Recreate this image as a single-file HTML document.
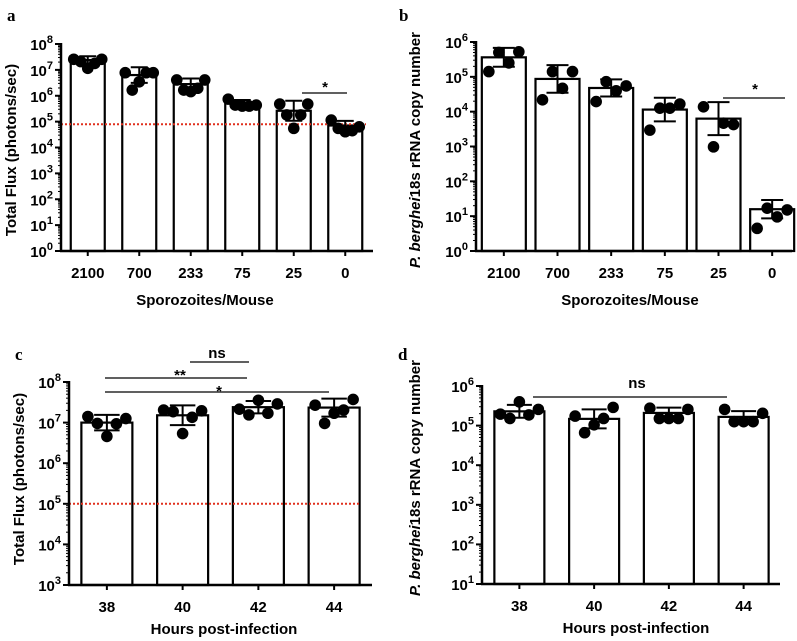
<!DOCTYPE html>
<html><head><meta charset="utf-8"><style>
body{margin:0;background:#fff;}
svg{display:block;font-family:"Liberation Sans",Arial,sans-serif;}
.t{font-weight:bold;font-size:15px;}
.pl{font-family:"Liberation Serif",serif;font-weight:bold;font-size:17px;}
</style></head><body>
<svg id="fig" width="797" height="641" viewBox="0 0 797 641" xmlns="http://www.w3.org/2000/svg"></svg>
<script>
// Panel a data (log10 values)
const catsA = ["2100","700","233","75","25","0"];
const barsA = [7.38, 6.80, 6.45, 5.72, 5.42, 4.85];
const ptsA = [[7.41,7.32,7.06,7.25,7.41],[6.89,6.22,6.54,6.89,6.89],[6.61,6.22,6.16,6.29,6.61],[5.87,5.64,5.6,5.6,5.64],[5.68,5.26,4.74,5.26,5.68],[5.06,4.74,4.61,4.65,4.8]];
// Panel b
const catsB = ["2100","700","233","75","25","0"];
const barsB = [5.56, 4.94, 4.68, 4.06, 3.80, 1.2];
const ptsB = [[5.15,5.7,5.4,5.72],[4.34,5.15,4.67,5.15],[4.29,4.86,4.6,4.74],[3.47,4.1,4.1,4.22],[4.14,2.99,3.67,3.63],[0.65,1.23,0.98,1.18]];
// Panel c
const catsC = ["38","40","42","44"];
const barsC = [7.0, 7.18, 7.38, 7.37];
const ptsC = [[7.15,6.98,6.66,6.97,7.1],[7.31,7.27,6.73,7.13,7.29],[7.33,7.19,7.55,7.23,7.46],[7.43,6.98,7.23,7.31,7.57]];
// Panel d
const catsD = ["38","40","42","44"];
const barsD = [5.36, 5.17, 5.32, 5.22];
const ptsD = [[5.29,5.18,5.6,5.27,5.41],[5.24,4.82,5.02,5.18,5.46],[5.44,5.18,5.18,5.18,5.41],[5.41,5.1,5.1,5.1,5.31]];
const ticksA=[0,1,2,3,4,5,6,7,8], ticksB=[0,1,2,3,4,5,6], ticksC=[3,4,5,6,7,8], ticksD=[1,2,3,4,5,6];
const thrA=4.9, thrC=5.0;

const NS="http://www.w3.org/2000/svg";
const svg=document.getElementById('fig');
function mk(tag,attrs,parent,txt){const e=document.createElementNS(NS,tag);for(const k in attrs)e.setAttribute(k,attrs[k]);if(txt!==undefined)e.textContent=txt;(parent||svg).appendChild(e);return e;}

function panel(o){
  const g=mk('g',{},svg);
  
  
  const y=v=>o.y0-(v-o.lmin)*(o.y0-o.y1)/(o.lmax-o.lmin);
  const n=o.cats.length, step=(o.xr-o.xl)/n;
  const x=i=>o.xl+step*(i+0.5);
  o.cats.forEach((c,i)=>{
    const r=mk('rect',{x:x(i)-o.bw/2,y:y(o.bars[i]),width:o.bw,height:o.y0-y(o.bars[i]),fill:'#fff',stroke:'#000','stroke-width':2.2},g);
    
    
  });
  if(o.thr!==undefined){
    const l=mk('line',{x1:o.ax,x2:o.thrEnd,y1:y(o.thr),y2:y(o.thr),stroke:'#e0301e','stroke-width':2,'stroke-dasharray':'2,2'},g);
    
    
  }
  o.cats.forEach((c,i)=>{
    const p=o.pts[i], m=o.bars[i];
    const mean=p.reduce((a,b)=>a+b,0)/p.length;
    const sd=Math.sqrt(p.reduce((a,b)=>a+(b-mean)*(b-mean),0)/(p.length-1));
    const cw=o.bw*0.5;
    mk('line',{x1:x(i),x2:x(i),y1:y(m+sd),y2:y(m-sd),stroke:'#000','stroke-width':2},g);
    mk('line',{x1:x(i)-cw/2,x2:x(i)+cw/2,y1:y(m+sd),y2:y(m+sd),stroke:'#000','stroke-width':2},g);
    mk('line',{x1:x(i)-cw/2,x2:x(i)+cw/2,y1:y(m-sd),y2:y(m-sd),stroke:'#000','stroke-width':2},g);
    p.forEach((v,j)=>{
      const off=(j-(p.length-1)/2)*(o.spread/(p.length-1));
      const d=mk('circle',{cx:x(i)+off,cy:y(v),r:5.8,fill:'#000'},g);
      
      
    });
    const t=mk('text',{x:x(i),y:o.y0+27,'text-anchor':'middle',class:'t'},g,c);
    
    
  });
  mk('line',{x1:o.ax,x2:o.ax,y1:o.y1-1,y2:o.y0,stroke:'#000','stroke-width':2.5},g);
  mk('line',{x1:o.ax-1,x2:o.axEnd,y1:o.y0,y2:o.y0,stroke:'#000','stroke-width':2.5},g);
  o.cats.forEach((c,i)=>mk('line',{x1:x(i),x2:x(i),y1:o.y0,y2:o.y0+5,stroke:'#000','stroke-width':2},g));
  o.ticks.forEach((t,k)=>{
    mk('line',{x1:o.ax-6,x2:o.ax,y1:y(t),y2:y(t),stroke:'#000','stroke-width':2},g);
    if(k<o.ticks.length-1) for(let m=2;m<10;m++){const yy=y(t+Math.log10(m));mk('line',{x1:o.ax-3,x2:o.ax,y1:yy,y2:yy,stroke:'#000','stroke-width':1},g);}
    const tx=mk('text',{x:o.ax-8,y:y(t)+6,'text-anchor':'end',class:'t','font-size':'16px'},g);
    
    
    mk('tspan',{},tx,'10');
    mk('tspan',{dy:-7,'font-size':'11px'},tx,String(t));
  });
  const xt=mk('text',{x:o.xtX,y:o.y0+o.xtDy,'text-anchor':'middle',class:'t','font-size':'16px'},g,o.xtitle);
  
  
  const yt=mk('text',{x:0,y:0,'text-anchor':'middle',class:'t','font-size':o.ytSize,transform:`translate(${o.ytX},${o.ytY}) rotate(-90)`},g);
  
  
  if(o.italic){mk('tspan',{'font-style':'italic'},yt,'P. berghei');mk('tspan',{},yt,'18s rRNA copy number');}
  else yt.textContent=o.ytitle;
  const pl=mk('text',{x:o.plX,y:o.plY,class:'pl'},g,o.label);
  
  
  (o.sig||[]).forEach(s=>{
    const sl=mk('line',{x1:s[0],x2:s[1],y1:s[2],y2:s[2],stroke:'#000','stroke-width':1.3},g);
    
    
    mk('text',{x:s[3],y:s[4],'text-anchor':'middle',class:'t','font-size':'17px'},g,s[5]);
  });
}
panel({name:'panel-a',label:'a',plX:7,plY:21,cats:catsA,bars:barsA,pts:ptsA,ticks:ticksA,lmin:0,lmax:8,y0:251,y1:44,ax:61,axEnd:373,xl:62,xr:371,bw:34,spread:28,thr:thrA,thrEnd:366,xtitle:'Sporozoites/Mouse',xtX:205,xtDy:54,ytitle:'Total Flux (photons/sec)',ytSize:'17px',ytX:16,ytY:150,sig:[[302,347,93,325,92,'*']]});
panel({name:'panel-b',label:'b',plX:399,plY:21,cats:catsB,bars:barsB,pts:ptsB,ticks:ticksB,lmin:0,lmax:6,y0:251,y1:42,ax:476,axEnd:792,xl:477,xr:799,bw:44,spread:30,xtitle:'Sporozoites/Mouse',xtX:630,xtDy:54,italic:true,ytSize:'16px',ytX:420,ytY:150,sig:[[723,785,98,755,94,'*']]});
panel({name:'panel-c',label:'c',plX:15,plY:360,cats:catsC,bars:barsC,pts:ptsC,ticks:ticksC,lmin:3,lmax:8,y0:585,y1:382,ax:69,axEnd:372,xl:69,xr:372,bw:51,spread:38,thr:thrC,thrEnd:361,xtitle:'Hours post-infection',xtX:224,xtDy:49,ytitle:'Total Flux (photons/sec)',ytSize:'17px',ytX:24,ytY:479,sig:[[190,249,362,217,358,'ns'],[105,247,378,180,380,'**'],[105,329,392,219,396,'*']]});
panel({name:'panel-d',label:'d',plX:398,plY:360,cats:catsD,bars:barsD,pts:ptsD,ticks:ticksD,lmin:1,lmax:6,y0:584,y1:386,ax:482,axEnd:780,xl:482,xr:781,bw:50,spread:38,xtitle:'Hours post-infection',xtX:636,xtDy:49,italic:true,ytSize:'15px',ytX:420,ytY:478,sig:[[533,727,397,637,388,'ns']]});
</script>
</body></html>
